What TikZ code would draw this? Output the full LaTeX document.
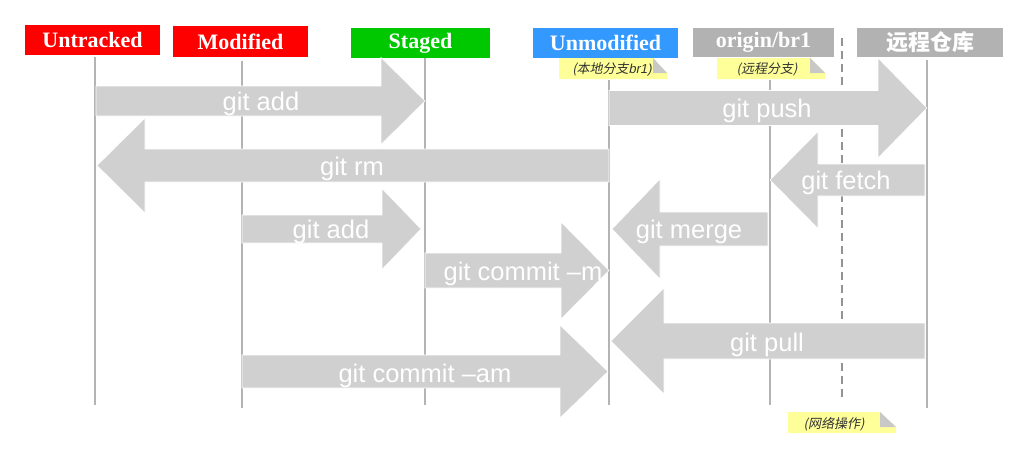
\documentclass[tikz,border=0pt]{standalone}
\usepackage{fontspec}
\setmainfont{Liberation Serif}
\setsansfont{Liberation Sans}
\newfontfamily\cjk{Noto Sans CJK SC}
\newfontfamily\cjkit[FakeSlant=0.2]{Noto Sans CJK SC}
\newfontfamily\latit{Liberation Sans}[FakeSlant=0.2]
\definecolor{hdred}{RGB}{255,0,0}
\definecolor{hdgreen}{RGB}{0,200,0}
\definecolor{hdblue}{RGB}{51,153,255}
\definecolor{hdgray}{RGB}{178,178,178}
\definecolor{arrgray}{RGB}{208,208,208}
\definecolor{linegray}{RGB}{180,180,180}
\definecolor{noteyellow}{RGB}{255,255,153}
\definecolor{notefold}{RGB}{200,200,200}
\definecolor{notetext}{RGB}{50,50,50}
\tikzset{
  header/.style={fill=#1, text=white, inner sep=0pt, font=\bfseries\fontsize{22}{22}\selectfont},
  lifeline/.style={draw=linegray, line width=2pt},
  netline/.style={draw=gray!85, line width=2pt, dash pattern=on 8pt off 5pt},
  blockarrow/.style={fill=arrgray, draw=white, line width=0.6pt},
  arrowlabel/.style={text=white, inner sep=0pt, font=\sffamily\fontsize{25.5}{26}\selectfont},
  notelabel/.style={text=notetext, inner sep=0pt, font=\cjkit\fontsize{13}{13}\selectfont},
}
% right-pointing block arrow: x0, xh (head base), xt (tip), yc, shaft half, head half
\newcommand{\blockarrowR}[6]{%
  \fill[blockarrow] (#1,#4-#5) -- (#2,#4-#5) -- (#2,#4-#6) -- (#3,#4) -- (#2,#4+#6) -- (#2,#4+#5) -- (#1,#4+#5) -- cycle;}
% note with folded corner: x1,y1,x2,y2, fold x, fold bottom y
\newcommand{\stickynote}[6]{%
  \fill[noteyellow] (#1,#2) -- (#5,#2) -- (#3,#6) -- (#3,#4) -- (#1,#4) -- cycle;
  \fill[notefold] (#5,#2) -- (#3,#6) -- (#5,#6) -- cycle;}
\begin{document}
\begin{tikzpicture}[x=1pt,y=-1pt]
\useasboundingbox (0,0) rectangle (1028,459);
\fill[white] (0,0) rectangle (1028,459);

% headers
\node[header=hdred, minimum width=135pt, minimum height=30pt] (untracked) at (92.5,40) {Untracked};
\node[header=hdred, minimum width=135pt, minimum height=31pt] (modified) at (240.5,41.5) {Modified};
\node[header=hdgreen, minimum width=139pt, minimum height=30pt] (staged) at (420.5,43) {Staged};
\node[header=hdblue, minimum width=145pt, minimum height=30pt] (unmodified) at (605.5,43) {Unmodified};
\node[header=hdgray, minimum width=141pt, minimum height=29pt] (origin) at (763.5,42.5) {origin/br1};
\node[header=hdgray, minimum width=146pt, minimum height=29pt, font=\cjk\bfseries\fontsize{22}{22}\selectfont] (remote) at (930,42.5) {远程仓库};

% life lines
\coordinate (u1) at (95,57);  \coordinate (u2) at (95,405);
\coordinate (m1) at (242,61); \coordinate (m2) at (242,408);
\coordinate (s1) at (425,58); \coordinate (s2) at (425,405);
\coordinate (n1) at (609,80); \coordinate (n2) at (609,405);
\coordinate (o1) at (770,80); \coordinate (o2) at (770,405);
\coordinate (d1) at (842,38); \coordinate (d2) at (842,397);
\coordinate (r1) at (927,60); \coordinate (r2) at (927,408);
\draw[lifeline] (u1) -- (u2);
\draw[lifeline] (m1) -- (m2);
\draw[lifeline] (s1) -- (s2);
\draw[lifeline] (n1) -- (n2);
\draw[lifeline] (o1) -- (o2);
\draw[netline] (d1) -- (d2);
\draw[lifeline] (r1) -- (r2);

% notes
\stickynote{559}{58}{667}{79}{653}{73}
\node[notelabel] (note1) at (612,69) {(本地分支\latit br1)};
\stickynote{717}{58}{825}{79}{810}{73}
\node[notelabel] (note2) at (767,69) {(远程分支)};
\stickynote{788}{412}{896}{433}{880}{427}
\node[notelabel] (note3) at (834,424) {(网络操作)};

% block arrows
\blockarrowR{96}{381}{425}{101}{15}{43.5}
\node[arrowlabel] (a1) at (261,104) {git add};
\blockarrowR{609}{878}{927}{108}{17.5}{50}
\node[arrowlabel] (a2) at (767,111) {git push};
\blockarrowR{609}{145}{97}{165.5}{16.5}{47.5}
\node[arrowlabel] (a3) at (352,169) {git rm};
\blockarrowR{925}{818}{770}{180}{16}{48.5}
\node[arrowlabel] (a4) at (846,183) {git fetch};
\blockarrowR{242}{382}{421}{229}{14}{40.5}
\node[arrowlabel] (a5) at (331,232) {git add};
\blockarrowR{768}{660}{612}{229}{17}{50}
\node[arrowlabel] (a6) at (689,232) {git merge};
\blockarrowR{425}{561}{609}{270.5}{17.5}{48.5}
\node[arrowlabel] (a7) at (523,274) {git commit –m};
\blockarrowR{925}{664}{611}{341}{18}{53}
\node[arrowlabel] (a8) at (767,345) {git pull};
\blockarrowR{242}{560}{608}{371.5}{16.5}{46.5}
\node[arrowlabel] (a9) at (425,376) {git commit –am};
\end{tikzpicture}
\end{document}
